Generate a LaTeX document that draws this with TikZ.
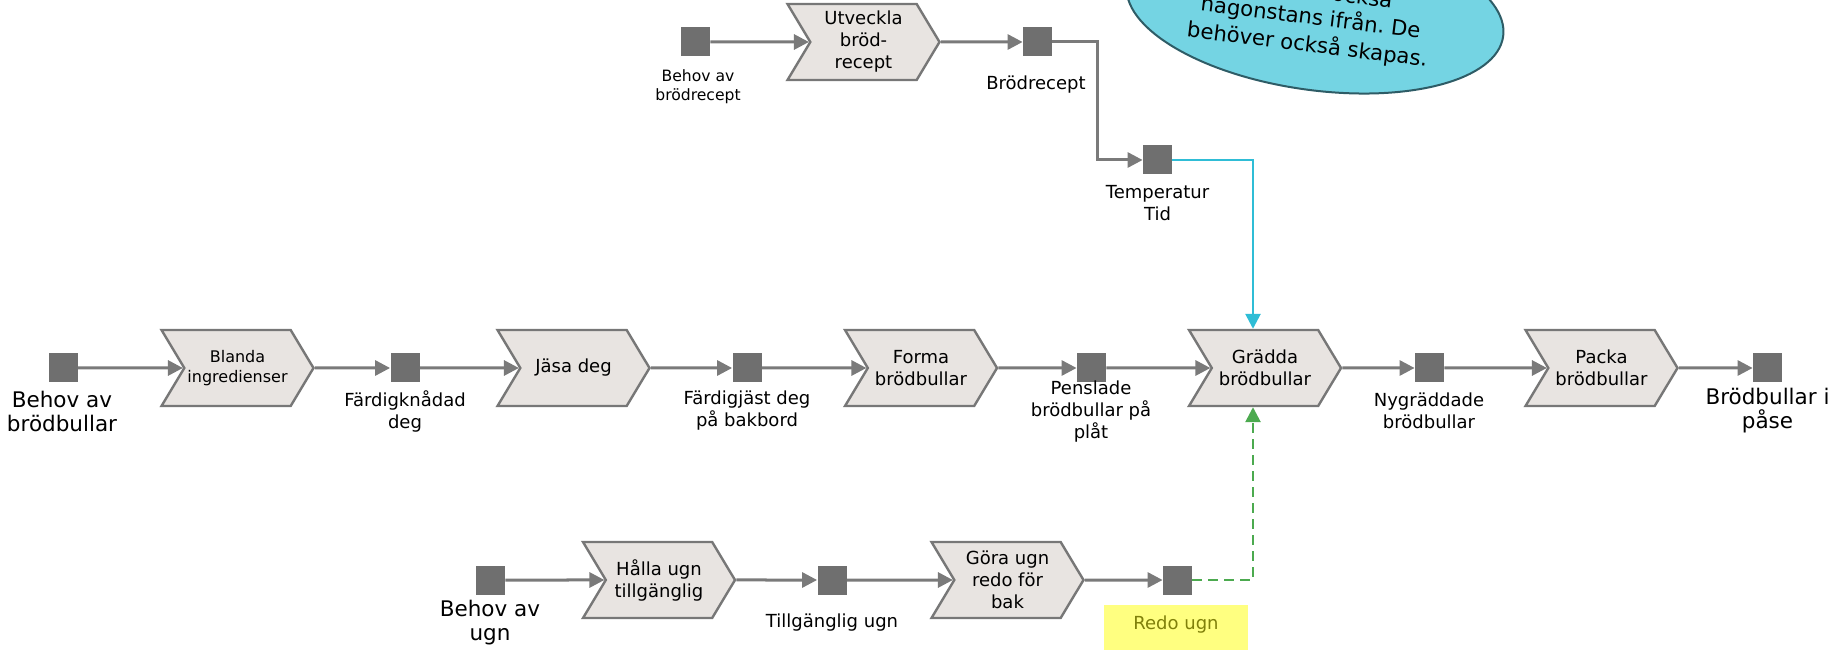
\documentclass[tikz,border=0pt]{standalone}
\usepackage{fontspec}
\setmainfont{DejaVu Sans}
\usepackage{tikz}
\usetikzlibrary{arrows.meta}
\usetikzlibrary{shapes.symbols}
\usetikzlibrary{shapes.geometric}
\usetikzlibrary{calc}

\definecolor{processfill}{HTML}{E8E4E1}
\definecolor{processline}{HTML}{777777}
\definecolor{objectfill}{HTML}{6F6F6F}
\definecolor{flowcolour}{HTML}{7A7A7A}
\definecolor{steeringcolour}{HTML}{2FBDD6}
\definecolor{resourcecolour}{HTML}{4CAA4F}
\definecolor{notefill}{HTML}{74D4E3}
\definecolor{noteline}{HTML}{2E5C66}
\definecolor{markfill}{HTML}{FFFF80}
\definecolor{marktext}{HTML}{80800A}

\tikzset{flowtip/.tip={Triangle[length=7.5pt, width=7.5pt]}}
\newcommand\defaultarrowstyle{flowtip}
\tikzset{>=\defaultarrowstyle}
\newcommand\flowwidth{1.5pt}
\newcommand\steeringwidth{1.3pt}
\newcommand\borderwidth{1.2pt}

\newcommand\labelsize{\fontsize{9}{11}\selectfont}
\newcommand\biglabelsize{\fontsize{10.75}{12}\selectfont}
\newcommand\smalllabelsize{\fontsize{7.8}{9.5}\selectfont}
\newcommand\smallprocsize{\fontsize{8}{10}\selectfont}
\newcommand\notesize{\fontsize{10.6}{13.75}\selectfont}

\tikzstyle{process}  = [signal, signal to=east, signal from=west, signal pointer angle=118,
 draw=processline, line width=\borderwidth, fill=processfill,
 minimum width=76pt, minimum height=38pt, inner sep=1pt, align=center, font=\labelsize]
\tikzstyle{object}   = [rectangle, fill=objectfill, minimum size=14.5pt, inner sep=0pt]
\tikzstyle{caption}  = [align=center, inner sep=0pt, font=\labelsize]
\tikzstyle{flow}     = [->, draw=flowcolour, line width=\flowwidth]
\tikzstyle{steering} = [->, draw=steeringcolour, line width=\steeringwidth]
\tikzstyle{resource} = [->, draw=resourcecolour, line width=\steeringwidth, dash pattern=on 5pt off 3pt]

\begin{document}
\frenchspacing
\begin{tikzpicture}[x=50pt, y=50pt]
  \path[use as bounding box, clip] (0, 0) rectangle (18.33, 6.49);
  % anteckning
  \draw (13.15, 6.39) node (note) [ellipse, rotate=-8, draw=noteline, line width=1pt, fill=notefill,
   minimum width=190pt, minimum height=80pt] {};
  \draw (13.09, 6.18) node (notetext) [rotate=-7, align=center, inner sep=0pt, font=\notesize]
   {någonstans ifrån. De\\behöver också skapas.};
  \draw (13.92, 6.41) node (notetop) [rotate=-7, anchor=base east, inner sep=0pt, font=\notesize] {också};
  % recept
  \draw (6.955, 6.07) node (needrecipe) [object] {};
  \draw (8.635, 6.07) node (develop) [process] {Utveckla\\bröd-\\recept};
  \draw (10.375, 6.07) node (recipe) [object] {};
  \draw (11.575, 4.89) node (temptime) [object] {};
  \coordinate (recipebend) at (10.97, 6.07);
  \draw (6.98, 5.625) node (needrecipetext) [caption, font=\smalllabelsize] {Behov av\\brödrecept};
  \draw (10.36, 5.64) node (recipetext) [caption] {Brödrecept};
  \draw (11.575, 4.455) node (temptimetext) [caption] {Temperatur\\Tid};
  % huvudflöde
  \draw (0.63, 2.81) node (needbuns) [object] {};
  \draw (2.375, 2.81) node (mix) [process, font=\smallprocsize] {Blanda\\ingredienser};
  \draw (4.05, 2.81) node (kneaded) [object] {};
  \draw (5.735, 2.81) node (rise) [process] {Jäsa deg};
  \draw (7.47, 2.81) node (risen) [object] {};
  \draw (9.21, 2.81) node (shape) [process] {Forma\\brödbullar};
  \draw (10.915, 2.81) node (brushed) [object] {};
  \draw (12.65, 2.81) node (bake) [process] {Grädda\\brödbullar};
  \draw (14.295, 2.81) node (baked) [object] {};
  \draw (16.015, 2.81) node (pack) [process] {Packa\\brödbullar};
  \draw (17.675, 2.81) node (bagged) [object] {};
  \draw (0.62, 2.38) node (needbunstext) [caption, font=\biglabelsize] {Behov av\\brödbullar};
  \draw (4.05, 2.38) node (kneadedtext) [caption] {Färdigknådad\\deg};
  \draw (7.47, 2.38) node (risentext) [caption] {Färdigjäst deg\\på bakbord};
  \draw (10.91, 2.37) node (brushedtext) [caption] {Penslade\\brödbullar på\\plåt};
  \draw (14.29, 2.38) node (bakedtext) [caption] {Nygräddade\\brödbullar};
  \draw (17.675, 2.38) node (baggedtext) [caption, font=\biglabelsize] {Brödbullar i\\påse};
  % ugn
  \draw (4.905, 0.69) node (needoven) [object] {};
  \draw (6.59, 0.69) node (keepoven) [process] {Hålla ugn\\tillgänglig};
  \draw (8.32, 0.69) node (ovenfree) [object] {};
  \draw (10.075, 0.69) node (prepoven) [process] {Göra ugn\\redo för\\bak};
  \draw (11.775, 0.69) node (ovenready) [object] {};
  \draw (4.9, 0.26) node (needoventext) [caption, font=\biglabelsize] {Behov av\\ugn};
  \draw (8.32, 0.26) node (ovenfreetext) [caption] {Tillgänglig ugn};
  \draw (11.76, 0.21) node (ovenreadytext) [caption, fill=markfill, text=marktext, minimum width=72pt,
   text height=12.3pt, text depth=10.7pt] {Redo ugn};
  % pilar
  \draw (needrecipe) -- (develop) [flow];
  \draw (develop) -- (recipe) [flow];
  \draw (recipe) -- (recipebend) |- (temptime) [flow];
  \draw (temptime) -| ([xshift=-6pt]bake.north) [steering];
  \draw (needbuns) -- (mix) [flow];
  \draw (mix) -- (kneaded) [flow];
  \draw (kneaded) -- (rise) [flow];
  \draw (rise) -- (risen) [flow];
  \draw (risen) -- (shape) [flow];
  \draw (shape) -- (brushed) [flow];
  \draw (brushed) -- (bake) [flow];
  \draw (bake) -- (baked) [flow];
  \draw (baked) -- (pack) [flow];
  \draw (pack) -- (bagged) [flow];
  \draw (needoven) -- (keepoven) [flow];
  \draw (keepoven) -- (ovenfree) [flow];
  \draw (ovenfree) -- (prepoven) [flow];
  \draw (prepoven) -- (ovenready) [flow];
  \draw (ovenready) -| ([xshift=-6pt]bake.south) [resource];
\end{tikzpicture}
\end{document}
